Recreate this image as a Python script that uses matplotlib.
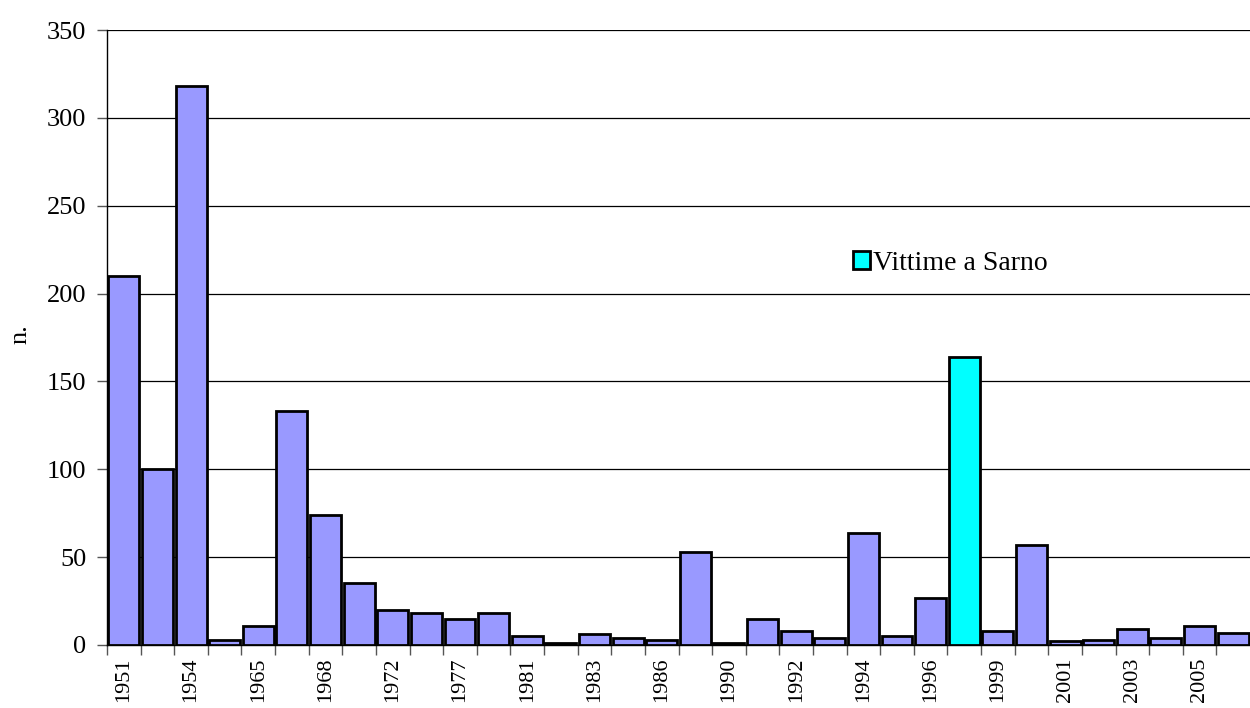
import numpy as np
import matplotlib.pyplot as plt
from matplotlib.patches import Patch

# Victims of landslides and floods per event year
years = [1951, 1953, 1954, 1963, 1965, 1966, 1968, 1970, 1972, 1976,
         1977, 1980, 1981, 1982, 1983, 1985, 1986, 1987, 1990, 1991,
         1992, 1993, 1994, 1995, 1996, 1998, 1999, 2000, 2001, 2002,
         2003, 2004, 2005, 2006]
victims = [210, 100, 318, 3, 11, 133, 74, 35, 20, 18,
           15, 18, 5, 1, 6, 4, 3, 53, 1, 15,
           8, 4, 64, 5, 27, 164, 8, 57, 2, 3,
           9, 4, 11, 7]
sarno_year = 1998

plt.rcParams['font.family'] = ['Liberation Serif', 'DejaVu Serif']

fig = plt.figure(figsize=(12.5, 7.08), dpi=100)
ax = fig.add_axes([0.0856, 0.089, 0.9144, 0.8686])

x = np.arange(len(years))
colors = ['#00FFFF' if y == sarno_year else '#9999FF' for y in years]
ax.bar(x, victims, width=0.92, color=colors, edgecolor='black',
       linewidth=2, zorder=3)

ax.set_xlim(-0.5, len(years) - 0.5)
ax.set_ylim(0, 350)
ax.set_yticks(range(0, 351, 50))
ax.yaxis.grid(True, color='black', linewidth=0.9, zorder=0)

# category boundary ticks, labels on every other bar
ax.set_xticks(x)
ax.set_xticklabels([str(y) if i % 2 == 0 else '' for i, y in enumerate(years)],
                   rotation=90, fontsize=16)
ax.tick_params(axis='x', which='major', length=0, pad=9)
ax.set_xticks(np.arange(len(years)) - 0.5, minor=True)
ax.tick_params(axis='x', which='minor', length=7, width=1, color='#555555')
ax.tick_params(axis='y', labelsize=19, length=7, width=1, color='#555555', pad=8)

for side in ['top', 'right']:
    ax.spines[side].set_visible(False)
ax.spines['left'].set_linewidth(1)
ax.spines['bottom'].set_linewidth(1)

ax.set_ylabel('n.', fontsize=19)
ax.yaxis.set_label_coords(-0.0665, 0.506)

ax.legend(handles=[Patch(facecolor='#00FFFF', edgecolor='black', linewidth=2,
                         label='Vittime a Sarno')],
          loc='center left', bbox_to_anchor=(0.653, 0.621), frameon=False,
          fontsize=20, handlelength=0.6, handleheight=0.6, handletextpad=0.1,
          borderpad=0, borderaxespad=0)

fig.savefig('out.png', dpi=100)
